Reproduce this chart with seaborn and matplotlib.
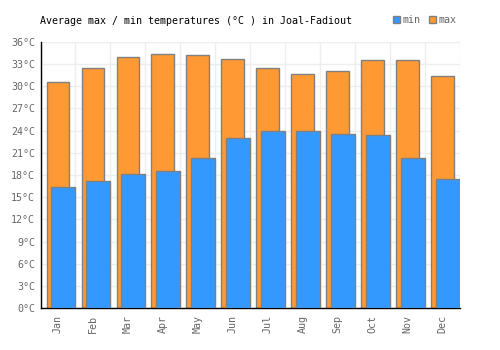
import numpy as np
import pandas as pd
import seaborn as sns
import matplotlib.pyplot as plt
from matplotlib.patches import Patch

# %% Data

lst_months = ['Jan', 'Feb', 'Mar', 'Apr', 'May', 'Jun',
              'Jul', 'Aug', 'Sep', 'Oct', 'Nov', 'Dec']
lst_max = [30.6, 32.5, 33.9, 34.3, 34.2, 33.7,
           32.5, 31.7, 32.0, 33.5, 33.5, 31.3]
lst_min = [16.4, 17.2, 18.1, 18.6, 20.3, 23.0,
           24.0, 23.9, 23.6, 23.4, 20.3, 17.4]
lst_yticks = np.arange(0, 37, 3)

# colours
str_blue = '#3399ff'
str_orange = '#ff9933'
str_edge = '#808080'
str_text = '#666666'

# %% Plot

sns.set_style('white')
plt.rcParams['font.family'] = ['DejaVu Sans Mono']

df = pd.DataFrame({'month': lst_months, 'max': lst_max, 'min': lst_min})

fig = plt.figure(figsize=(5, 3.5), dpi=100)
ax = fig.add_axes([0.081, 0.119, 0.839, 0.762])

# max bars first (behind), min bars shifted right on top
sns.barplot(data=df, x='month', y='max', color=str_orange, width=0.65,
            edgecolor=str_edge, linewidth=1, saturation=1, ax=ax, zorder=2)
n_max = len(ax.patches)
sns.barplot(data=df, x='month', y='min', color=str_blue, width=0.69,
            edgecolor=str_edge, linewidth=1, saturation=1, ax=ax, zorder=3)
for patch in ax.patches[n_max:]:
    patch.set_x(patch.get_x() + 0.15)

ax.set_xlim(-0.5, 11.5)
ax.set_ylim(0, 36)
ax.set_yticks(lst_yticks)
ax.set_yticklabels([f'{v}°C' for v in lst_yticks], fontsize=7.2,
                   color=str_text)
ax.set_xlabel('')
ax.set_ylabel('')

# grid: horizontal at every 3 degrees, vertical between months
ax.set_xticks(np.arange(-0.5, 12, 1), minor=True)
ax.grid(axis='y', which='major', color='#eeeeee', linewidth=1, zorder=0)
ax.grid(axis='x', which='minor', color='#eeeeee', linewidth=1, zorder=0)
ax.grid(axis='x', which='major', visible=False)
ax.tick_params(which='both', length=0)
ax.tick_params(axis='y', pad=4)
ax.set_axisbelow(True)

# month labels as rotated texts, reading bottom to top
ax.set_xticks(np.arange(12))
ax.set_xticklabels([])
trans = ax.get_xaxis_transform()
for ind, str_month in enumerate(lst_months):
    ax.text(ind, -0.025, str_month, transform=trans, rotation=90,
            ha='center', va='top', fontsize=7.2, color=str_text)

for side in ['top', 'right']:
    ax.spines[side].set_visible(False)
for side in ['left', 'bottom']:
    ax.spines[side].set_color('black')
    ax.spines[side].set_linewidth(1)

fig.text(0.079, 0.93, 'Average max / min temperatures (°C ) in Joal-Fadiout',
         fontsize=7.2, color='black', ha='left', va='baseline')

lst_handles = [Patch(facecolor=str_blue, edgecolor=str_edge),
               Patch(facecolor=str_orange, edgecolor=str_edge)]
leg = fig.legend(lst_handles, ['min', 'max'], loc='center left',
                 bbox_to_anchor=(0.775, 0.942), ncol=2, frameon=False,
                 fontsize=7.2, handlelength=0.75, handleheight=0.75,
                 handletextpad=0.25, columnspacing=0.8, borderpad=0)
for txt in leg.get_texts():
    txt.set_color(str_text)

fig.savefig('out.png', dpi=100)
